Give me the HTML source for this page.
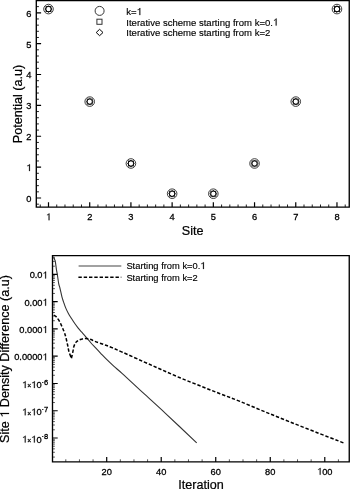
<!DOCTYPE html><html><head><meta charset="utf-8"><style>html,body{margin:0;padding:0;background:#fff;width:350px;height:490px;overflow:hidden}svg{display:block;will-change:transform}text{font-family:"Liberation Sans",sans-serif;fill:#000;stroke:#000;stroke-width:0.22px}.h1{fill-opacity:0;stroke-opacity:0}</style></head><body>
<svg width="350" height="490" viewBox="0 0 350 490">
<path d="M36.30 198.00h4.8M36.30 167.13h4.8M36.30 136.26h4.8M36.30 105.39h4.8M36.30 74.52h4.8M36.30 43.65h4.8M36.30 12.78h4.8M48.50 207.10v-4.8M89.71 207.10v-4.8M130.92 207.10v-4.8M172.13 207.10v-4.8M213.34 207.10v-4.8M254.55 207.10v-4.8M295.76 207.10v-4.8M336.97 207.10v-4.8" stroke="#000" stroke-width="1.2" fill="none"/>
<path d="M36.30 204.17h2.6M36.30 191.83h2.6M36.30 185.65h2.6M36.30 179.48h2.6M36.30 173.30h2.6M36.30 160.96h2.6M36.30 154.78h2.6M36.30 148.61h2.6M36.30 142.43h2.6M36.30 130.09h2.6M36.30 123.91h2.6M36.30 117.74h2.6M36.30 111.56h2.6M36.30 99.22h2.6M36.30 93.04h2.6M36.30 86.87h2.6M36.30 80.69h2.6M36.30 68.35h2.6M36.30 62.17h2.6M36.30 56.00h2.6M36.30 49.82h2.6M36.30 37.48h2.6M36.30 31.30h2.6M36.30 25.13h2.6M36.30 18.95h2.6M36.30 6.61h2.6M40.26 207.10v-2.6M56.74 207.10v-2.6M64.98 207.10v-2.6M73.23 207.10v-2.6M81.47 207.10v-2.6M97.95 207.10v-2.6M106.19 207.10v-2.6M114.44 207.10v-2.6M122.68 207.10v-2.6M139.16 207.10v-2.6M147.40 207.10v-2.6M155.65 207.10v-2.6M163.89 207.10v-2.6M180.37 207.10v-2.6M188.61 207.10v-2.6M196.86 207.10v-2.6M205.10 207.10v-2.6M221.58 207.10v-2.6M229.82 207.10v-2.6M238.07 207.10v-2.6M246.31 207.10v-2.6M262.79 207.10v-2.6M271.03 207.10v-2.6M279.28 207.10v-2.6M287.52 207.10v-2.6M304.00 207.10v-2.6M312.24 207.10v-2.6M320.49 207.10v-2.6M328.73 207.10v-2.6M345.21 207.10v-2.6" stroke="#222" stroke-width="1" fill="none"/>
<path d="M36.3 0.6H349.25V207.1H36.3Z" stroke="#000" stroke-width="1.35" fill="none"/>
<text transform="translate(31.50,201.95) scale(1,1.05)" font-size="9.3" style="stroke-width:0.28px" text-anchor="end">0</text>
<text id="t1" transform="translate(31.50,171.08) scale(1,1.05)" font-size="9.3" style="stroke-width:0.28px" text-anchor="end"><tspan class="h1">1</tspan></text><path d="M-1.63 0.00L-1.63 -6.54L-2.24 -6.54L-2.47 -6.14L-3.12 -5.58L-4.10 -5.25L-4.10 -4.65L-3.21 -4.91L-2.47 -5.38L-2.47 0.00Z" fill="#000" stroke="#000" stroke-width="0.2" transform="translate(31.50,171.08) scale(1,1.05)"/>
<text transform="translate(31.50,140.21) scale(1,1.05)" font-size="9.3" style="stroke-width:0.28px" text-anchor="end">2</text>
<text transform="translate(31.50,109.34) scale(1,1.05)" font-size="9.3" style="stroke-width:0.28px" text-anchor="end">3</text>
<text transform="translate(31.50,78.47) scale(1,1.05)" font-size="9.3" style="stroke-width:0.28px" text-anchor="end">4</text>
<text transform="translate(31.50,47.60) scale(1,1.05)" font-size="9.3" style="stroke-width:0.28px" text-anchor="end">5</text>
<text transform="translate(31.50,16.73) scale(1,1.05)" font-size="9.3" style="stroke-width:0.28px" text-anchor="end">6</text>
<text id="t2" transform="translate(48.50,220.25) scale(1,1.05)" font-size="9.3" style="stroke-width:0.28px" text-anchor="middle"><tspan class="h1">1</tspan></text><path d="M0.95 0.00L0.95 -6.54L0.35 -6.54L0.11 -6.14L-0.54 -5.58L-1.51 -5.25L-1.51 -4.65L-0.63 -4.91L0.11 -5.38L0.11 0.00Z" fill="#000" stroke="#000" stroke-width="0.2" transform="translate(48.50,220.25) scale(1,1.05)"/>
<text transform="translate(89.71,220.25) scale(1,1.05)" font-size="9.3" style="stroke-width:0.28px" text-anchor="middle">2</text>
<text transform="translate(130.92,220.25) scale(1,1.05)" font-size="9.3" style="stroke-width:0.28px" text-anchor="middle">3</text>
<text transform="translate(172.13,220.25) scale(1,1.05)" font-size="9.3" style="stroke-width:0.28px" text-anchor="middle">4</text>
<text transform="translate(213.34,220.25) scale(1,1.05)" font-size="9.3" style="stroke-width:0.28px" text-anchor="middle">5</text>
<text transform="translate(254.55,220.25) scale(1,1.05)" font-size="9.3" style="stroke-width:0.28px" text-anchor="middle">6</text>
<text transform="translate(295.76,220.25) scale(1,1.05)" font-size="9.3" style="stroke-width:0.28px" text-anchor="middle">7</text>
<text transform="translate(336.97,220.25) scale(1,1.05)" font-size="9.3" style="stroke-width:0.28px" text-anchor="middle">8</text>
<text x="192.6" y="235" font-size="12.6" text-anchor="middle">Site</text>
<text transform="translate(21.8,143.2) rotate(-90)" x="0" y="0" font-size="12.6">Potential (a.u)</text>
<circle cx="48.50" cy="9.08" r="4.8" stroke="#333" stroke-width="0.95" fill="none"/><rect x="46.00" y="6.58" width="5" height="5" stroke="#000" stroke-width="0.9" fill="none"/><path d="M48.50 5.68L51.90 9.08L48.50 12.48L45.10 9.08Z" stroke="#000" stroke-width="0.9" fill="none"/>
<circle cx="89.71" cy="101.59" r="4.8" stroke="#333" stroke-width="0.95" fill="none"/><rect x="87.21" y="99.09" width="5" height="5" stroke="#000" stroke-width="0.9" fill="none"/><path d="M89.71 98.19L93.11 101.59L89.71 104.99L86.31 101.59Z" stroke="#000" stroke-width="0.9" fill="none"/>
<circle cx="130.92" cy="163.49" r="4.8" stroke="#333" stroke-width="0.95" fill="none"/><rect x="128.42" y="160.99" width="5" height="5" stroke="#000" stroke-width="0.9" fill="none"/><path d="M130.92 160.09L134.32 163.49L130.92 166.89L127.52 163.49Z" stroke="#000" stroke-width="0.9" fill="none"/>
<circle cx="172.13" cy="193.71" r="4.8" stroke="#333" stroke-width="0.95" fill="none"/><rect x="169.63" y="191.21" width="5" height="5" stroke="#000" stroke-width="0.9" fill="none"/><path d="M172.13 190.31L175.53 193.71L172.13 197.11L168.73 193.71Z" stroke="#000" stroke-width="0.9" fill="none"/>
<circle cx="213.34" cy="193.71" r="4.8" stroke="#333" stroke-width="0.95" fill="none"/><rect x="210.84" y="191.21" width="5" height="5" stroke="#000" stroke-width="0.9" fill="none"/><path d="M213.34 190.31L216.74 193.71L213.34 197.11L209.94 193.71Z" stroke="#000" stroke-width="0.9" fill="none"/>
<circle cx="254.55" cy="163.49" r="4.8" stroke="#333" stroke-width="0.95" fill="none"/><rect x="252.05" y="160.99" width="5" height="5" stroke="#000" stroke-width="0.9" fill="none"/><path d="M254.55 160.09L257.95 163.49L254.55 166.89L251.15 163.49Z" stroke="#000" stroke-width="0.9" fill="none"/>
<circle cx="295.76" cy="101.59" r="4.8" stroke="#333" stroke-width="0.95" fill="none"/><rect x="293.26" y="99.09" width="5" height="5" stroke="#000" stroke-width="0.9" fill="none"/><path d="M295.76 98.19L299.16 101.59L295.76 104.99L292.36 101.59Z" stroke="#000" stroke-width="0.9" fill="none"/>
<circle cx="336.97" cy="9.08" r="4.8" stroke="#333" stroke-width="0.95" fill="none"/><rect x="334.47" y="6.58" width="5" height="5" stroke="#000" stroke-width="0.9" fill="none"/><path d="M336.97 5.68L340.37 9.08L336.97 12.48L333.57 9.08Z" stroke="#000" stroke-width="0.9" fill="none"/>
<circle cx="99.6" cy="10.9" r="4.5" stroke="#333" stroke-width="1" fill="none"/>
<rect x="96.9" y="19.2" width="5.1" height="5.1" stroke="#333" stroke-width="1" fill="none"/>
<path d="M99.6 29.3L103 32.5L99.6 35.7L96.2 32.5Z" stroke="#000" stroke-width="1" fill="none"/>
<text id="t3" transform="translate(126.30,15.10) scale(1,1.04)" font-size="9.55" style="stroke-width:0.15px">k=<tspan class="h1">1</tspan></text><path d="M13.98 0.00L13.98 -6.71L13.36 -6.71L13.12 -6.30L12.45 -5.73L11.45 -5.40L11.45 -4.78L12.36 -5.04L13.12 -5.52L13.12 0.00Z" fill="#000" stroke="#000" stroke-width="0.2" transform="translate(126.30,15.10) scale(1,1.04)"/>
<text id="t4" transform="translate(126.30,25.60) scale(1,1.04)" font-size="9.55" style="stroke-width:0.15px">Iterative scheme starting from k=0.<tspan class="h1">1</tspan></text><path d="M150.26 0.00L150.26 -6.71L149.64 -6.71L149.40 -6.30L148.73 -5.73L147.73 -5.40L147.73 -4.78L148.64 -5.04L149.40 -5.52L149.40 0.00Z" fill="#000" stroke="#000" stroke-width="0.2" transform="translate(126.30,25.60) scale(1,1.04)"/>
<text transform="translate(126.30,36.00) scale(1,1.04)" font-size="9.55" style="stroke-width:0.15px">Iterative scheme starting from k=2</text>
<path d="M52.50 274.40h5.2M52.50 301.67h5.2M52.50 328.94h5.2M52.50 356.21h5.2M52.50 383.48h5.2M52.50 410.75h5.2M52.50 438.02h5.2M106.70 461.90v-4.8M161.22 461.90v-4.8M215.74 461.90v-4.8M270.26 461.90v-4.8M324.78 461.90v-4.8" stroke="#000" stroke-width="1.2" fill="none"/>
<path d="M52.50 266.19h2.4M52.50 261.39h2.4M52.50 257.98h2.4M52.50 293.46h2.4M52.50 288.66h2.4M52.50 285.25h2.4M52.50 282.61h2.4M52.50 280.45h2.4M52.50 278.62h2.4M52.50 277.04h2.4M52.50 275.65h2.4M52.50 320.73h2.4M52.50 315.93h2.4M52.50 312.52h2.4M52.50 309.88h2.4M52.50 307.72h2.4M52.50 305.89h2.4M52.50 304.31h2.4M52.50 302.92h2.4M52.50 348.00h2.4M52.50 343.20h2.4M52.50 339.79h2.4M52.50 337.15h2.4M52.50 334.99h2.4M52.50 333.16h2.4M52.50 331.58h2.4M52.50 330.19h2.4M52.50 375.27h2.4M52.50 370.47h2.4M52.50 367.06h2.4M52.50 364.42h2.4M52.50 362.26h2.4M52.50 360.43h2.4M52.50 358.85h2.4M52.50 357.46h2.4M52.50 402.54h2.4M52.50 397.74h2.4M52.50 394.33h2.4M52.50 391.69h2.4M52.50 389.53h2.4M52.50 387.70h2.4M52.50 386.12h2.4M52.50 384.73h2.4M52.50 429.81h2.4M52.50 425.01h2.4M52.50 421.60h2.4M52.50 418.96h2.4M52.50 416.80h2.4M52.50 414.97h2.4M52.50 413.39h2.4M52.50 412.00h2.4M52.50 457.08h2.4M52.50 452.28h2.4M52.50 448.87h2.4M52.50 446.23h2.4M52.50 444.07h2.4M52.50 442.24h2.4M52.50 440.66h2.4M52.50 439.27h2.4M65.81 461.90v-2.6M79.44 461.90v-2.6M93.07 461.90v-2.6M120.33 461.90v-2.6M133.96 461.90v-2.6M147.59 461.90v-2.6M174.85 461.90v-2.6M188.48 461.90v-2.6M202.11 461.90v-2.6M229.37 461.90v-2.6M243.00 461.90v-2.6M256.63 461.90v-2.6M283.89 461.90v-2.6M297.52 461.90v-2.6M311.15 461.90v-2.6M338.41 461.90v-2.6" stroke="#444" stroke-width="0.9" fill="none"/>
<path d="M52.5 255.6H349.25V461.9H52.5Z" stroke="#000" stroke-width="1.35" fill="none"/>
<text id="t5" transform="translate(47.70,278.45) scale(1,1.05)" font-size="9.3" style="stroke-width:0.28px" text-anchor="end">0.0<tspan class="h1">1</tspan></text><path d="M-1.63 0.00L-1.63 -6.54L-2.24 -6.54L-2.47 -6.14L-3.12 -5.58L-4.10 -5.25L-4.10 -4.65L-3.21 -4.91L-2.47 -5.38L-2.47 0.00Z" fill="#000" stroke="#000" stroke-width="0.2" transform="translate(47.70,278.45) scale(1,1.05)"/>
<text id="t6" transform="translate(47.70,305.72) scale(1,1.05)" font-size="9.3" style="stroke-width:0.28px" text-anchor="end">0.00<tspan class="h1">1</tspan></text><path d="M-1.63 0.00L-1.63 -6.54L-2.24 -6.54L-2.47 -6.14L-3.12 -5.58L-4.10 -5.25L-4.10 -4.65L-3.21 -4.91L-2.47 -5.38L-2.47 0.00Z" fill="#000" stroke="#000" stroke-width="0.2" transform="translate(47.70,305.72) scale(1,1.05)"/>
<text id="t7" transform="translate(47.70,332.99) scale(1,1.05)" font-size="9.3" style="stroke-width:0.28px" text-anchor="end">0.000<tspan class="h1">1</tspan></text><path d="M-1.63 0.00L-1.63 -6.54L-2.24 -6.54L-2.47 -6.14L-3.12 -5.58L-4.10 -5.25L-4.10 -4.65L-3.21 -4.91L-2.47 -5.38L-2.47 0.00Z" fill="#000" stroke="#000" stroke-width="0.2" transform="translate(47.70,332.99) scale(1,1.05)"/>
<text id="t8" transform="translate(47.70,360.26) scale(1,1.05)" font-size="9.3" style="stroke-width:0.28px" text-anchor="end">0.0000<tspan class="h1">1</tspan></text><path d="M-1.63 0.00L-1.63 -6.54L-2.24 -6.54L-2.47 -6.14L-3.12 -5.58L-4.10 -5.25L-4.10 -4.65L-3.21 -4.91L-2.47 -5.38L-2.47 0.00Z" fill="#000" stroke="#000" stroke-width="0.2" transform="translate(47.70,360.26) scale(1,1.05)"/>
<text id="t9" transform="translate(48.30,388.08) scale(1,1.05)" font-size="9.3" style="stroke-width:0.28px" text-anchor="end"><tspan class="h1">1</tspan><tspan font-size="6.8" dy="0.2">×</tspan><tspan dy="-0.2"><tspan class="h1">1</tspan>0</tspan><tspan dy="-3.1" font-size="7.6">·6</tspan></text><path d="M-22.69 0.00L-22.69 -6.54L-23.30 -6.54L-23.53 -6.14L-24.18 -5.58L-25.16 -5.25L-25.16 -4.65L-24.27 -4.91L-23.53 -5.38L-23.53 0.00ZM-13.55 0.00L-13.55 -6.54L-14.15 -6.54L-14.39 -6.14L-15.04 -5.58L-16.01 -5.25L-16.01 -4.65L-15.13 -4.91L-14.39 -5.38L-14.39 0.00Z" fill="#000" stroke="#000" stroke-width="0.2" transform="translate(48.30,388.08) scale(1,1.05)"/>
<text id="t10" transform="translate(48.30,415.35) scale(1,1.05)" font-size="9.3" style="stroke-width:0.28px" text-anchor="end"><tspan class="h1">1</tspan><tspan font-size="6.8" dy="0.2">×</tspan><tspan dy="-0.2"><tspan class="h1">1</tspan>0</tspan><tspan dy="-3.1" font-size="7.6">·7</tspan></text><path d="M-22.69 0.00L-22.69 -6.54L-23.30 -6.54L-23.53 -6.14L-24.18 -5.58L-25.16 -5.25L-25.16 -4.65L-24.27 -4.91L-23.53 -5.38L-23.53 0.00ZM-13.55 0.00L-13.55 -6.54L-14.15 -6.54L-14.39 -6.14L-15.04 -5.58L-16.01 -5.25L-16.01 -4.65L-15.13 -4.91L-14.39 -5.38L-14.39 0.00Z" fill="#000" stroke="#000" stroke-width="0.2" transform="translate(48.30,415.35) scale(1,1.05)"/>
<text id="t11" transform="translate(48.30,442.62) scale(1,1.05)" font-size="9.3" style="stroke-width:0.28px" text-anchor="end"><tspan class="h1">1</tspan><tspan font-size="6.8" dy="0.2">×</tspan><tspan dy="-0.2"><tspan class="h1">1</tspan>0</tspan><tspan dy="-3.1" font-size="7.6">·8</tspan></text><path d="M-22.69 0.00L-22.69 -6.54L-23.30 -6.54L-23.53 -6.14L-24.18 -5.58L-25.16 -5.25L-25.16 -4.65L-24.27 -4.91L-23.53 -5.38L-23.53 0.00ZM-13.55 0.00L-13.55 -6.54L-14.15 -6.54L-14.39 -6.14L-15.04 -5.58L-16.01 -5.25L-16.01 -4.65L-15.13 -4.91L-14.39 -5.38L-14.39 0.00Z" fill="#000" stroke="#000" stroke-width="0.2" transform="translate(48.30,442.62) scale(1,1.05)"/>
<text transform="translate(106.70,474.75) scale(1,1.05)" font-size="9.3" style="stroke-width:0.28px" text-anchor="middle">20</text>
<text transform="translate(161.22,474.75) scale(1,1.05)" font-size="9.3" style="stroke-width:0.28px" text-anchor="middle">40</text>
<text transform="translate(215.74,474.75) scale(1,1.05)" font-size="9.3" style="stroke-width:0.28px" text-anchor="middle">60</text>
<text transform="translate(270.26,474.75) scale(1,1.05)" font-size="9.3" style="stroke-width:0.28px" text-anchor="middle">80</text>
<text id="t12" transform="translate(324.78,474.75) scale(1,1.05)" font-size="9.3" style="stroke-width:0.28px" text-anchor="middle"><tspan class="h1">1</tspan>00</text><path d="M-4.22 0.00L-4.22 -6.54L-4.82 -6.54L-5.05 -6.14L-5.70 -5.58L-6.68 -5.25L-6.68 -4.65L-5.80 -4.91L-5.05 -5.38L-5.05 0.00Z" fill="#000" stroke="#000" stroke-width="0.2" transform="translate(324.78,474.75) scale(1,1.05)"/>
<text x="201" y="489.4" font-size="12.6" text-anchor="middle">Iteration</text>
<text id="t13" transform="translate(9.0,442.9) rotate(-90)" x="0" y="0" font-size="12.6">Site <tspan class="h1">1</tspan> Density Difference (a.u)</text><path d="M29.99 0.00L29.99 -8.86L29.17 -8.86L28.86 -8.32L27.98 -7.56L26.65 -7.12L26.65 -6.30L27.85 -6.65L28.86 -7.28L28.86 0.00Z" fill="#000" stroke="#000" stroke-width="0.2" transform="translate(9.0,442.9) rotate(-90)"/>
<path d="M78.6 266.0H121.3" stroke="#444" stroke-width="1.1"/>
<path d="M78.4 277.2H121.3" stroke="#000" stroke-width="1.5" stroke-dasharray="3.4 1.9"/>
<text id="t14" transform="translate(126.40,269.00) scale(1,1.04)" font-size="9.35" style="stroke-width:0.15px">Starting from k=0.<tspan class="h1">1</tspan></text><path d="M77.44 0.00L77.44 -6.57L76.83 -6.57L76.59 -6.17L75.94 -5.61L74.96 -5.28L74.96 -4.67L75.85 -4.94L76.59 -5.40L76.59 0.00Z" fill="#000" stroke="#000" stroke-width="0.2" transform="translate(126.40,269.00) scale(1,1.04)"/>
<text transform="translate(126.40,280.50) scale(1,1.04)" font-size="9.35" style="stroke-width:0.15px">Starting from k=2</text>
<path d="M53.60 256.50C53.77 257.00 54.32 258.68 54.60 259.50C54.88 260.32 55.00 259.77 55.30 261.40C55.60 263.03 56.05 267.03 56.40 269.30C56.75 271.57 57.02 272.62 57.40 275.00C57.78 277.38 58.28 281.43 58.70 283.60C59.12 285.77 59.50 286.42 59.90 288.00C60.30 289.58 60.70 291.40 61.10 293.10C61.50 294.80 61.82 296.50 62.30 298.20C62.78 299.90 63.40 301.60 64.00 303.30C64.60 305.00 65.17 306.70 65.90 308.40C66.63 310.10 67.48 311.83 68.40 313.50C69.32 315.17 70.37 316.77 71.40 318.40C72.43 320.03 73.50 321.73 74.60 323.30C75.70 324.87 76.85 326.37 78.00 327.80C79.15 329.23 80.23 330.43 81.50 331.90C82.77 333.37 84.08 334.83 85.60 336.60C87.12 338.37 88.97 340.65 90.60 342.50C92.23 344.35 93.72 345.90 95.40 347.70C97.08 349.50 98.78 351.30 100.70 353.30C102.62 355.30 104.68 357.52 106.90 359.70C109.12 361.88 111.43 364.08 114.00 366.40C116.57 368.72 117.48 369.22 122.30 373.60C127.12 377.98 135.67 386.03 142.90 392.70C150.13 399.37 156.73 405.25 165.70 413.60C174.67 421.95 191.53 437.93 196.70 442.80" stroke="#333" stroke-width="1.1" fill="none"/>
<path d="M54.00 315.10C54.33 315.35 55.15 315.67 56.00 316.60C56.85 317.53 58.17 319.17 59.10 320.70C60.03 322.23 60.78 324.02 61.60 325.80C62.42 327.58 63.33 329.67 64.00 331.40C64.67 333.13 65.13 334.53 65.60 336.20C66.07 337.87 66.42 339.70 66.80 341.40C67.18 343.10 67.55 344.73 67.90 346.40C68.25 348.07 68.32 349.40 68.90 351.40C69.48 353.40 70.98 357.23 71.40 358.40C71.65 357.27 72.48 353.60 72.90 351.60C73.32 349.60 73.37 347.98 73.90 346.40C74.43 344.82 75.32 343.12 76.10 342.10C76.88 341.08 77.72 340.78 78.60 340.30C79.48 339.82 80.33 339.52 81.40 339.20C82.47 338.88 83.78 338.45 85.00 338.40C86.22 338.35 87.58 338.67 88.70 338.90C89.82 339.13 90.67 339.38 91.70 339.80C92.73 340.22 92.95 340.63 94.90 341.40C96.85 342.17 100.70 343.42 103.40 344.40C106.10 345.38 107.85 345.97 111.10 347.30C114.35 348.63 117.53 350.02 122.90 352.40C128.27 354.78 136.93 358.75 143.30 361.60C149.67 364.45 154.98 366.80 161.10 369.50C167.22 372.20 173.52 375.08 180.00 377.80C186.48 380.52 193.33 383.15 200.00 385.80C206.67 388.45 213.33 391.10 220.00 393.70C226.67 396.30 232.67 398.45 240.00 401.40C247.33 404.35 255.90 408.07 264.00 411.40C272.10 414.73 279.93 417.93 288.60 421.40C297.27 424.87 306.83 428.62 316.00 432.20C325.17 435.78 339.00 441.12 343.60 442.90" stroke="#000" stroke-width="1.5" fill="none" stroke-dasharray="3.4 1.9"/>
</svg></body></html>
